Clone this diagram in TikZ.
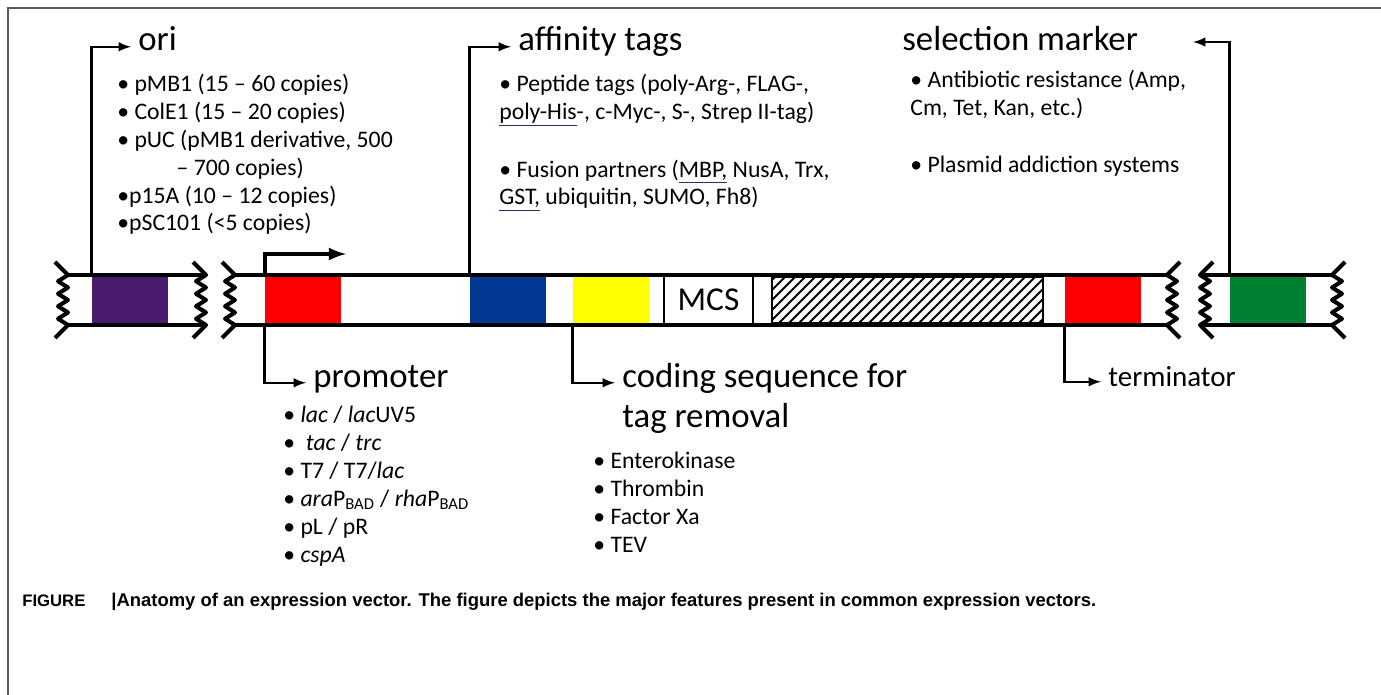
\documentclass[tikz,border=0pt]{standalone}
\usepackage{fontspec}
\setmainfont{Carlito}
\newfontfamily\capfont{Liberation Sans}
\usetikzlibrary{arrows}
\definecolor{oripurple}{RGB}{72,27,109}
\definecolor{promred}{RGB}{255,0,0}
\definecolor{tagblue}{RGB}{0,56,147}
\definecolor{cleavyellow}{RGB}{255,255,0}
\definecolor{selgreen}{RGB}{0,128,49}
\definecolor{ulblue}{RGB}{31,56,110}
\newcommand{\blueul}[1]{{\color{ulblue}\underline{\color{black}#1}}}

\begin{document}
\begin{tikzpicture}[x=0.02cm,y=-0.02cm,
    strand/.style={line width=2.3pt},
    tear/.pic={\draw[line width=2.3pt,line join=round] (0,-13) -- (13,0) -- (3,6.25) -- (13,12.5) -- (3,18.75) -- (13,25) -- (3,31.25) -- (13,37.5) -- (3,43.75) -- (13,50) -- (0,63);},
    part/.style={inner sep=0pt,minimum width=1.52cm,minimum height=1cm},
    heading/.style={inner sep=4pt,anchor=base west,font=\fontsize{19.8}{22.8}\selectfont},
    items/.style={inner sep=0pt,anchor=base west,align=left,font=\fontsize{13.5}{15.9}\selectfont},
    callout/.style={-latex,line width=1.4pt},
    capstyle/.style={inner sep=0pt,anchor=base west,font=\capfont\bfseries\fontsize{9.5}{11}\selectfont}]
  \useasboundingbox (0,0) rectangle (1381,695);
  \draw[line width=1.2pt,black!65] (1381,8) -- (8,8) -- (8,695);
  \node[part,fill=oripurple] (oribox) at (130,300) {};
  \node[part,fill=promred] (prombox) at (303,300) {};
  \node[part,fill=tagblue] (tagbox) at (508,300) {};
  \node[part,fill=cleavyellow] (cleavbox) at (611,300) {};
  \node[part,draw,line width=0.8pt,minimum width=1.78cm,font=\fontsize{19}{22}\selectfont] (mcs) at (708.5,300) {MCS};
  \begin{scope}
    \clip (772,277) rectangle (1043,323);
    \foreach \i in {-6,...,28}
      \draw[line width=1.1pt] (772+\i*10,330) -- ++(60,-60);
  \end{scope}
  \draw[line width=0.8pt] (772,277) rectangle (1043,323);
  \node[part,fill=promred] (termbox) at (1103,300) {};
  \node[part,fill=selgreen] (selbox) at (1268,300) {};
  \draw[strand] (68,275) -- (206,275) (68,325) -- (206,325);
  \draw[strand] (235,275) -- (1167,275) (235,325) -- (1167,325);
  \draw[strand] (1200,275) -- (1332,275) (1200,325) -- (1332,325);
  \pic at (55,275) {tear};
  \pic at (193,275) {tear};
  \pic at (222,275) {tear};
  \pic[xscale=-1] at (1180,275) {tear};
  \pic[xscale=-1] at (1213,275) {tear};
  \pic[xscale=-1] at (1345,275) {tear};
  \coordinate (tsstip) at (346,254);
  \draw[-latex,line width=2.3pt] (prombox.north west) |- (tsstip);
  \node[heading] (orihead) at (131,51) {ori};
  \node[heading] (taghead) at (511,51) {affinity tags};
  \node[heading] (selhead) at (895,51) {selection marker};
  \coordinate (seltip) at (1193,42);
  \node[heading] (promhead) at (306,387) {promoter};
  \node[heading] (cleavhead) at (615,387) {coding sequence for};
  \node[heading] (cleavhead2) at (615,427) {tag removal};
  \node[heading,font=\fontsize{16.5}{20}\selectfont] (termhead) at (1101,386) {terminator};
  \draw[callout] (oribox.north west) |- (orihead.mid west);
  \draw[callout] (tagbox.north west) |- (taghead.mid west);
  \draw[callout] (selbox.north west) |- (seltip);
  \draw[callout] (prombox.south west) |- (promhead.mid west);
  \draw[callout] (cleavbox.south west) |- (cleavhead.mid west);
  \draw[callout] (termbox.south west) |- (termhead.mid west);
  \node[items] (orilist) at (117,231) {\textbullet\ pMB1 (15 -- 60 copies)\\
    \textbullet\ ColE1 (15 -- 20 copies)\\
    \textbullet\ pUC (pMB1 derivative, 500\\
    \hspace*{2.5em}-- 700 copies)\\
    \textbullet p15A (10 -- 12 copies)\\
    \textbullet pSC101 (<5 copies)};
  \node[items] (taglist) at (499,205) {\textbullet\ Peptide tags (poly-Arg-, FLAG-,\\
    \blueul{poly-His}-, c-Myc-, S-, Strep II-tag)\\[17pt]
    \textbullet\ Fusion partners (\blueul{MBP,} NusA, Trx,\\
    \blueul{GST,} ubiquitin, SUMO, Fh8)};
  \node[items] (sellist) at (910,173) {\textbullet\ Antibiotic resistance (Amp,\\
    Cm, Tet, Kan, etc.)\\[17pt]
    \textbullet\ Plasmid addiction systems};
  \node[items] (promlist) at (283,562) {\textbullet\ \textit{lac} / \textit{lac}UV5\\
    \textbullet\ \ \textit{tac} / \textit{trc}\\
    \textbullet\ T7 / T7/\textit{lac}\\
    \textbullet\ \textit{ara}P\textsubscript{BAD} / \textit{rha}P\textsubscript{BAD}\\
    \textbullet\ pL / pR\\
    \textbullet\ \textit{cspA}};
  \node[items] (cleavlist) at (593,552) {\textbullet\ Enterokinase\\
    \textbullet\ Thrombin\\
    \textbullet\ Factor Xa\\
    \textbullet\ TEV};
  \node[capstyle] (figlabel) at (22,606) {FIGURE};
  \node[capstyle,font=\capfont\bfseries\fontsize{10.5}{12}\selectfont] (figcaption) at (111,606) {\textbar Anatomy of an expression vector. The figure depicts the major features present in common expression vectors.};
\end{tikzpicture}
\end{document}
